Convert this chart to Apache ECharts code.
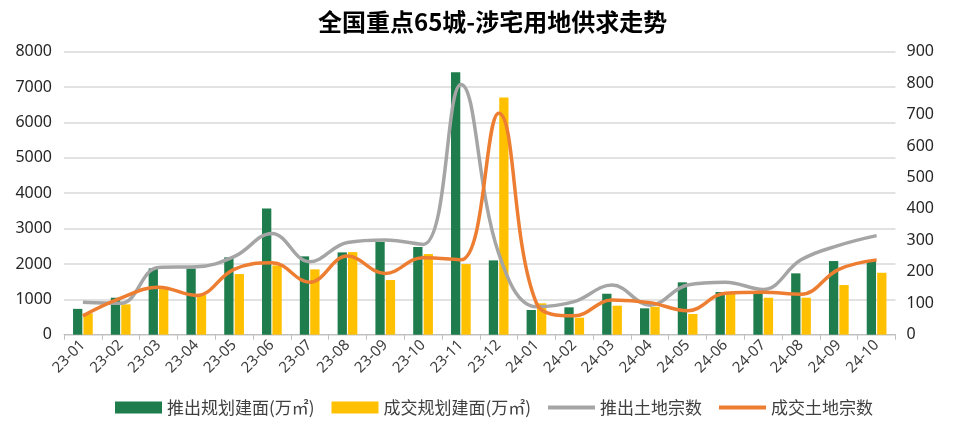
<!DOCTYPE html>
<html>
<head>
<meta charset="utf-8">
<script src="https://cdn.jsdelivr.net/npm/echarts@6/dist/echarts.min.js"></script>
<style>html,body{margin:0;padding:0;background:#fff}#c{width:960px;height:426px}</style>
</head>
<body>
<div id="c"></div>
<script>
var categories = ['23-01','23-02','23-03','23-04','23-05','23-06','23-07','23-08','23-09','23-10','23-11','23-12','24-01','24-02','24-03','24-04','24-05','24-06','24-07','24-08','24-09','24-10'];
var supplyArea = [730,1045,1875,1870,2186,3570,2214,2327,2618,2477,7420,2101,698,774,1158,745,1480,1206,1210,1734,2082,2110];
var dealArea = [600,858,1290,1120,1714,1960,1847,2335,1545,2280,1997,6706,887,480,820,790,585,1200,1045,1045,1404,1751];
var supplyCount = [103,100,214,216,248,322,232,293,301,287,796,259,89,105,158,94,158,167,144,238,284,315];
var dealCount = [60,116,151,125,208,229,167,250,195,245,238,704,100,60,110,102,76,132,135,129,208,238];
var leftTicks = [0,1000,2000,3000,4000,5000,6000,7000,8000];
var rightTicks = [0,100,200,300,400,500,600,700,800,900];

var numFont = '"Noto Sans", "Open Sans", sans-serif';
var cjkFont = '"Noto Sans CJK SC", sans-serif';
var lineIcon = 'path://M0,0 L47,0 L47,4 L0,4 Z';
var chart = echarts.init(document.getElementById('c'));
chart.setOption({
  animation: false,
  title: {
    text: '全国重点65城-涉宅用地供求走势',
    left: 313, top: 5,
    textStyle: {fontFamily: cjkFont, fontSize: 24, fontWeight: 'bold', color: '#000'}
  },
  legend: {
    bottom: 5, left: 110,
    itemWidth: 47, itemHeight: 12, itemGap: 17,
    textStyle: {fontFamily: cjkFont, fontSize: 17, color: '#404040'},
    data: [
      {name: '推出规划建面(万㎡)', icon: 'rect'},
      {name: '成交规划建面(万㎡)', icon: 'rect'},
      {name: '推出土地宗数', icon: lineIcon},
      {name: '成交土地宗数', icon: lineIcon}
    ]
  },
  grid: {left: 64, right: 64.5, top: 51.7, bottom: 91.3, containLabel: false},
  xAxis: {
    type: 'category', data: categories, boundaryGap: true,
    axisLine: {lineStyle: {color: '#bfbfbf', width: 1}},
    axisTick: {show: true, length: 5, lineStyle: {color: '#bfbfbf'}},
    axisLabel: {rotate: 45, interval: 0, fontFamily: numFont, fontSize: 15, color: '#404040', margin: 8}
  },
  yAxis: [
    {type: 'value', min: leftTicks[0], max: leftTicks[leftTicks.length-1], interval: 1000,
     axisLine: {show: false}, axisTick: {show: false},
     splitLine: {lineStyle: {color: '#d9d9d9', width: 1.5}},
     axisLabel: {fontFamily: numFont, fontSize: 16, color: '#262626', margin: 12,
                 formatter: function (v) { return String(v); }}},
    {type: 'value', min: rightTicks[0], max: rightTicks[rightTicks.length-1], interval: 100,
     axisLine: {show: false}, axisTick: {show: false}, splitLine: {show: false},
     axisLabel: {fontFamily: numFont, fontSize: 16, color: '#262626', margin: 11,
                 formatter: function (v) { return String(v); }}}
  ],
  series: [
    {name: '推出规划建面(万㎡)', type: 'bar', data: supplyArea, yAxisIndex: 0,
     barWidth: 9.3, barGap: '12%', itemStyle: {color: '#1f7d4d'}},
    {name: '成交规划建面(万㎡)', type: 'bar', data: dealArea, yAxisIndex: 0,
     barWidth: 9.3, barGap: '12%', itemStyle: {color: '#ffc000'}},
    {name: '推出土地宗数', type: 'line', data: supplyCount, yAxisIndex: 1, smooth: 0.4,
     symbol: 'none', lineStyle: {color: '#a5a5a5', width: 3.5}, itemStyle: {color: '#a5a5a5'}},
    {name: '成交土地宗数', type: 'line', data: dealCount, yAxisIndex: 1, smooth: 0.4,
     symbol: 'none', lineStyle: {color: '#ed7d31', width: 3.5}, itemStyle: {color: '#ed7d31'}}
  ]
});
</script>
</body>
</html>
